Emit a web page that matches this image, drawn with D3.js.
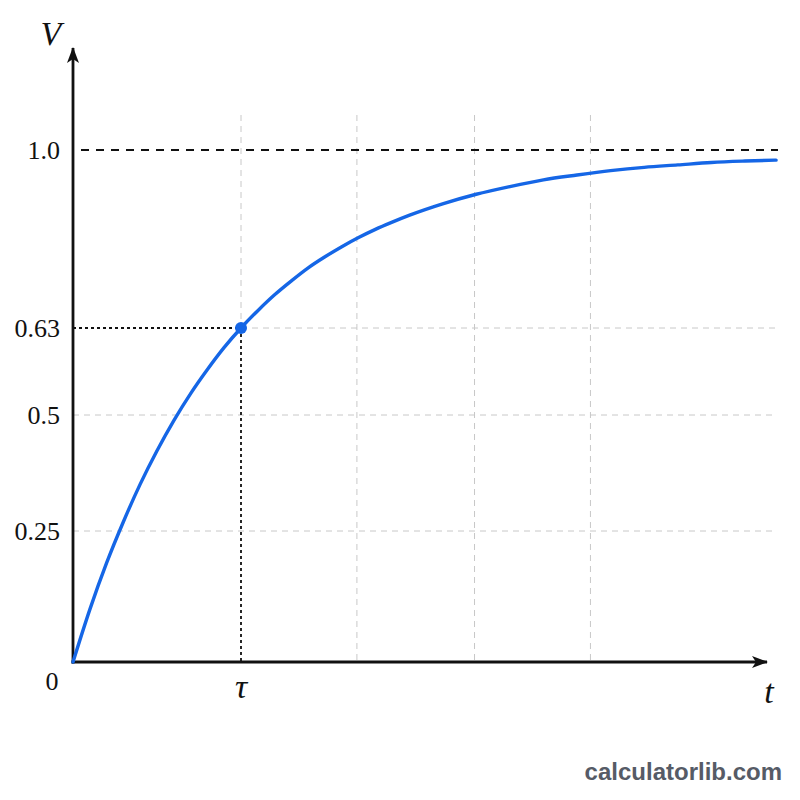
<!DOCTYPE html>
<html>
<head>
<meta charset="utf-8">
<script src="https://cdn.jsdelivr.net/npm/d3@7"></script>
<style>
  body { margin: 0; background: #fff; }
  svg { display: block; }
  .serif { font-family: "Liberation Serif", "DejaVu Serif", serif; fill: #111; }
</style>
</head>
<body>
<svg width="800" height="800"></svg>
<script>
// curve, t in units of tau
var curveT = [0, 0.1, 0.2, 0.3, 0.4, 0.5, 0.6, 0.7, 0.8, 0.9, 1.0, 1.1, 1.2, 1.3, 1.4, 1.5,
              1.6, 1.7, 1.8, 1.9, 2.0, 2.2, 2.4, 2.6, 2.8, 3.0, 3.2, 3.4, 3.6, 3.8, 4.0, 4.185];
var curveV = [0, 0.100, 0.189, 0.270, 0.351, 0.423, 0.488, 0.532, 0.568, 0.601, 0.63, 0.666, 0.699, 0.728, 0.755, 0.778,
              0.799, 0.818, 0.835, 0.850, 0.864, 0.888, 0.908, 0.924, 0.938, 0.948, 0.957, 0.964, 0.969, 0.974, 0.977, 0.979];

var yTicks = [0.25, 0.5, 0.63, 1.0];
var yTickLabels = ["0.25", "0.5", "0.63", "1.0"];
var gridT = [1, 1.69, 2.39, 3.08];      // light vertical grid
var gridV = [0.25, 0.5, 0.63];          // light horizontal grid
var tau = 1, tauV = 0.63;

var svg = d3.select("svg");

var x = d3.scaleLinear().domain([0, 4.125]).range([73, 766]);
// tick labels are not evenly spaced in the picture, so a piecewise scale
var y = d3.scaleLinear().domain([0, 0.25, 0.5, 0.63, 1]).range([662, 531, 415, 328, 150]);

// light grey grid
svg.append("g").selectAll("line")
  .data(gridT)
  .enter().append("line")
    .attr("x1", d => x(d)).attr("x2", d => x(d))
    .attr("y1", 115)
    .attr("y2", d => d === tau ? y(tauV) : y(0))
    .attr("stroke", "#c8c8c8").attr("stroke-width", 1)
    .attr("stroke-dasharray", "6,5");

svg.append("g").selectAll("line")
  .data(gridV)
  .enter().append("line")
    .attr("x1", d => d === tauV ? x(tau) : x(0))
    .attr("x2", 776)
    .attr("y1", d => y(d)).attr("y2", d => y(d))
    .attr("stroke", "#c8c8c8").attr("stroke-width", 1)
    .attr("stroke-dasharray", "6,5");

// asymptote at 1.0
svg.append("line")
  .attr("x1", 81).attr("x2", 778)
  .attr("y1", y(1)).attr("y2", y(1))
  .attr("stroke", "#111").attr("stroke-width", 2.2)
  .attr("stroke-dasharray", "8,7");

// dotted guides to the tau point
svg.append("path")
  .attr("d", "M" + x(0) + "," + y(tauV) + "H" + x(tau) + "V" + y(0))
  .attr("fill", "none")
  .attr("stroke", "#111").attr("stroke-width", 1.8)
  .attr("stroke-dasharray", "3,3");

// axes with arrows
svg.append("defs").append("marker")
  .attr("id", "arrow")
  .attr("viewBox", "0 0 16 12")
  .attr("refX", 15).attr("refY", 6)
  .attr("markerWidth", 16).attr("markerHeight", 12)
  .attr("markerUnits", "userSpaceOnUse")
  .attr("orient", "auto")
  .append("path")
    .attr("d", "M0,0 L16,6 L0,12 L4,6 Z")
    .attr("fill", "#111");

svg.append("line")
  .attr("x1", x(0)).attr("x2", x(0))
  .attr("y1", y(0) + 1.5).attr("y2", 48)
  .attr("stroke", "#111").attr("stroke-width", 2.8)
  .attr("marker-end", "url(#arrow)");

svg.append("line")
  .attr("x1", x(0) - 1.5).attr("x2", 767)
  .attr("y1", y(0)).attr("y2", y(0))
  .attr("stroke", "#111").attr("stroke-width", 2.8)
  .attr("marker-end", "url(#arrow)");

// the charging curve
var pts = curveT.map((t, i) => [t, curveV[i]]);
var line = d3.line()
  .x(d => x(d[0]))
  .y(d => y(d[1]))
  .curve(d3.curveMonotoneX);

svg.append("path")
  .datum(pts)
  .attr("d", line)
  .attr("fill", "none")
  .attr("stroke", "#1566e6")
  .attr("stroke-width", 3.4)
  .attr("stroke-linecap", "round");

svg.append("circle")
  .attr("cx", x(tau)).attr("cy", y(tauV))
  .attr("r", 6)
  .attr("fill", "#1566e6");

// labels
svg.append("g").selectAll("text")
  .data(yTicks)
  .enter().append("text")
    .attr("class", "serif")
    .attr("x", 60)
    .attr("y", d => y(d) + 9)
    .attr("text-anchor", "end")
    .attr("font-size", 26)
    .text((d, i) => yTickLabels[i]);

svg.append("text").attr("class", "serif")
  .attr("x", 52).attr("y", 690)
  .attr("text-anchor", "middle").attr("font-size", 26)
  .text("0");

svg.append("text").attr("class", "serif")
  .attr("x", x(tau)).attr("y", 698)
  .attr("text-anchor", "middle").attr("font-size", 34)
  .attr("font-style", "italic")
  .text("τ");

svg.append("text").attr("class", "serif")
  .attr("x", 51).attr("y", 45)
  .attr("text-anchor", "middle").attr("font-size", 34)
  .attr("font-style", "italic")
  .text("V");

svg.append("text").attr("class", "serif")
  .attr("x", 769).attr("y", 703)
  .attr("text-anchor", "middle").attr("font-size", 34)
  .attr("font-style", "italic")
  .text("t");

svg.append("text")
  .attr("x", 782).attr("y", 780)
  .attr("text-anchor", "end")
  .attr("font-family", "'Liberation Sans', Arial, sans-serif")
  .attr("font-weight", "bold")
  .attr("font-size", 24)
  .attr("fill", "#565b66")
  .text("calculatorlib.com");
</script>
</body>
</html>
